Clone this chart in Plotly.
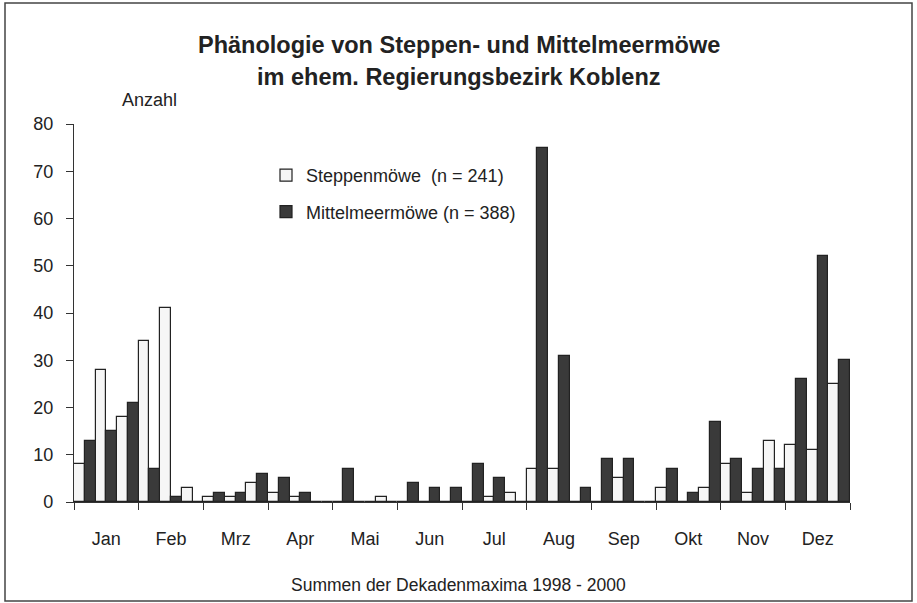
"""
Phänologie von Steppen- und Mittelmeermöwe — decade sums as grouped bars.
"""

import numpy as np
import plotly.graph_objects as go

MONTHS = ["Jan", "Feb", "Mrz", "Apr", "Mai", "Jun",
          "Jul", "Aug", "Sep", "Okt", "Nov", "Dez"]

# three decades (Dekaden) per month, Jan I .. Dez III
STEPPEN = [8, 28, 18, 34, 41, 3, 1, 1, 4, 2, 1, 0,
           0, 0, 1, 0, 0, 0, 0, 1, 2, 7, 7, 0,
           0, 5, 0, 3, 0, 3, 8, 2, 13, 12, 11, 25]
MITTEL = [13, 15, 21, 7, 1, 0, 2, 2, 6, 5, 2, 0,
          7, 0, 0, 4, 3, 3, 8, 5, 0, 75, 31, 3,
          9, 9, 0, 7, 2, 17, 9, 7, 7, 26, 52, 30]

TEXT = "#222222"
FONT = "Liberation Sans, Arial, sans-serif"

# plot area in pixels
L, R, T, B = 74, 67, 124, 101
W, H = 917, 603
PW, PH = W - L - R, H - T - B

x = np.arange(len(STEPPEN)) + 0.5

fig = go.Figure()
fig.add_trace(go.Bar(
    x=x, y=STEPPEN, name="Steppenmöwe  (n = 241)",
    marker=dict(color="#f6f6f6", line=dict(color="#222222", width=1.2)),
    legendgroup="a",
))
fig.add_trace(go.Bar(
    x=x, y=MITTEL, name="Mittelmeermöwe (n = 388)",
    marker=dict(color="#3a3a3a", line=dict(color="#222222", width=1.2)),
    legendgroup="b",
))


def px_x(p):
    return (p - L) / PW


def px_y(p):
    return (H - B - p) / PH


def label(text, xp, yp, size):
    return dict(text=text, x=px_x(xp), y=px_y(yp), xref="paper", yref="paper",
                xanchor="center", yanchor="middle", showarrow=False,
                font=dict(size=size))


fig.update_layout(
    width=W, height=H,
    margin=dict(l=L, r=R, t=T, b=B),
    paper_bgcolor="white", plot_bgcolor="white",
    font=dict(family=FONT, color=TEXT, size=18),
    barmode="group", bargap=0, bargroupgap=0,
    showlegend=True,
    legend=dict(
        x=px_x(266), y=px_y(157), xanchor="left", yanchor="top",
        bgcolor="rgba(0,0,0,0)", font=dict(size=18),
        traceorder="grouped", tracegroupgap=10, itemwidth=30,
    ),
    xaxis=dict(
        range=[0, 36], showgrid=False, zeroline=False,
        showline=True, linecolor="#333333", linewidth=1.2,
        tickmode="array",
        tickvals=[3 * i + 1.5 for i in range(12)], ticktext=MONTHS,
        ticks="", ticklabelstandoff=20,
        minor=dict(tickmode="array", tickvals=list(range(0, 37, 3)),
                   ticks="outside", ticklen=7, tickcolor="#333333",
                   tickwidth=1.2, showgrid=False),
    ),
    yaxis=dict(
        range=[0, 80], showgrid=False, zeroline=False,
        showline=True, linecolor="#333333", linewidth=1.2,
        tickvals=list(range(0, 81, 10)),
        ticks="outside", ticklen=7, tickcolor="#333333", tickwidth=1.2,
        ticklabelstandoff=9,
    ),
    annotations=[
        label("<b>Phänologie von Steppen- und Mittelmeermöwe</b>", 459, 45, 23.5),
        label("<b>im ehem. Regierungsbezirk Koblenz</b>", 459, 77, 23.5),
        label("Anzahl", 149, 100, 18),
        label("Summen der Dekadenmaxima 1998 - 2000", 458, 585, 17.5),
    ],
    shapes=[
        dict(type="rect", xref="paper", yref="paper",
             x0=px_x(5), x1=px_x(912), y0=px_y(601), y1=px_y(3),
             line=dict(color="#444444", width=1.5)),
    ],
)

fig.write_html("out.html", config={"displayModeBar": False},
               post_script="document.body.style.margin='0';")
